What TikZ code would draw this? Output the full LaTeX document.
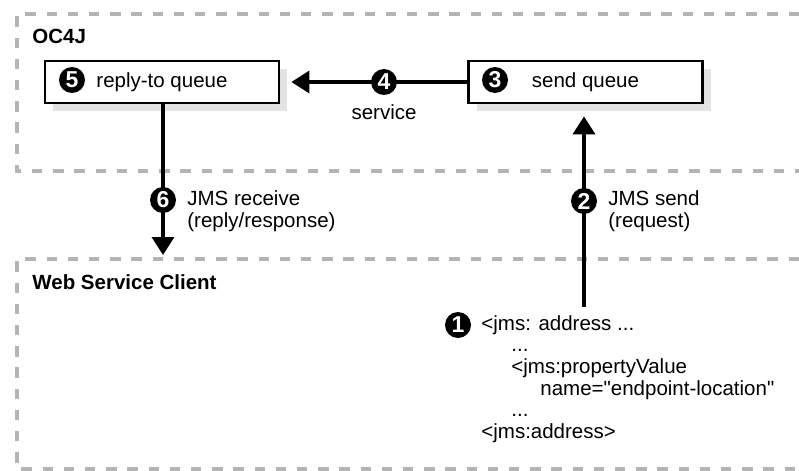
\documentclass[tikz,border=0pt]{standalone}
\usepackage{fontspec}
\setmainfont{Liberation Sans}
\usetikzlibrary{arrows.meta,positioning,calc,shadows}

\definecolor{regiongray}{HTML}{B4B4B4}
\definecolor{shadowgray}{HTML}{E3E3E3}

\tikzset{
    region/.style={draw=regiongray, line width=2pt, dash pattern=on 5.2pt off 5.4pt},
    queue/.style={draw, line width=1.4pt, fill=white, minimum width=117pt, minimum height=21pt, inner sep=0pt,
        drop shadow={shadow xshift=4pt, shadow yshift=-4pt, fill=shadowgray, opacity=1}},
    numc/.style={circle, fill=black, text=white, font=\fontsize{11.5}{11.5}\selectfont\bfseries, inner sep=0pt, minimum size=13pt},
    flow/.style={line width=1.8pt, -{Triangle[length=9pt,width=11pt]}},
    lbl/.style={inner sep=0pt, align=left}
}

\begin{document}
\begin{tikzpicture}[x=0.5pt, y=-0.5pt, font=\fontsize{10.25}{10.8}\selectfont]
    \useasboundingbox (0,0) rectangle (799,471);
    %Regions%
    %===========================================================
    \draw[region] (799,14) -- (17,14) -- (17,171) -- (799,171); %OC4J
    \draw[region] (799,259) -- (17,259) -- (17,469) -- (799,469); %Client
    \node[lbl, anchor=west, font=\fontsize{10.25}{10.8}\selectfont\bfseries] (oc4j) at (32,36) {OC4J};
    \node[lbl, anchor=west, font=\fontsize{10.25}{10.8}\selectfont\bfseries] (client) at (32,282) {Web Service Client};

    %Queues%
    %===========================================================
    \node[queue] (replyq) at (162,82) {reply-to queue};
    \node[queue] (sendq) at (585.5,82) {send queue};
    \coordinate (recvend) at (163,255); %Tip of JMS receive
    \coordinate (sendfrom) at (584,307); %Foot of JMS send

    \draw[flow, shorten >=5.5pt] (sendq.west) -- (replyq.east);
    \draw[flow] (replyq.south -| recvend) -- (recvend);
    \draw[flow, shorten >=6pt] (sendfrom) -- (sendfrom |- sendq.south);

    %Steps%
    %===========================================================
    \node[numc] (n1) at (458,325) {1};
    \node[numc] (n2) at (584,201) {2};
    \node[numc] (n3) at (495,80) {3};
    \node[numc] (n4) at (384,82) {4};
    \node[numc] (n5) at (72,80) {5};
    \node[numc] (n6) at (163,200) {6};

    \node[lbl] (service) at (384,112) {service};
    \node[lbl, anchor=west] (recvlbl) at (187,211) {JMS receive\\(reply/response)};
    \node[lbl, anchor=west] (sendlbl) at (608,211) {JMS send\\(request)};
    \node[lbl, anchor=north west] (addr) at (481,315) {<jms: address ...\\
        \hspace*{15pt}...\\
        \hspace*{15pt}<jms:propertyValue\\
        \hspace*{29.5pt}name=\textquotedbl endpoint-location\textquotedbl\\
        \hspace*{15pt}...\\
        <jms:address>};
\end{tikzpicture}
\end{document}
